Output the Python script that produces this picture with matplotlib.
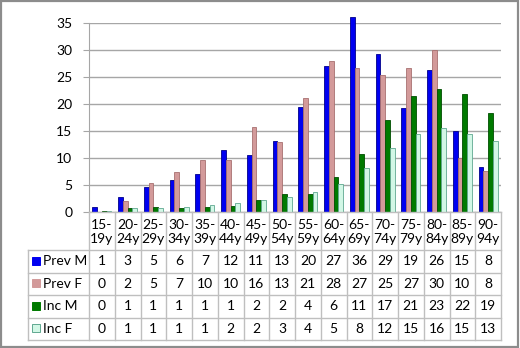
import numpy as np
import matplotlib
matplotlib.use("Agg")
import matplotlib.pyplot as plt
from matplotlib.patches import Rectangle

plt.rcParams['font.family'] = ['Lato', 'DejaVu Sans']

# age groups
categories = ["15-\n19y", "20-\n24y", "25-\n29y", "30-\n34y", "35-\n39y", "40-\n44y",
              "45-\n49y", "50-\n54y", "55-\n59y", "60-\n64y", "65-\n69y", "70-\n74y",
              "75-\n79y", "80-\n84y", "85-\n89y", "90-\n94y"]
series_names = ["Prev M", "Prev F", "Inc M", "Inc F"]

# bar heights
prev_m = [1.0, 2.8, 4.7, 6.0, 7.1, 11.5, 10.5, 13.2, 19.5, 27.0, 36.0, 29.3, 19.2, 26.2, 15.0, 8.4]
prev_f = [0.0, 2.1, 5.3, 7.4, 9.7, 9.6, 15.8, 13.0, 21.1, 27.9, 26.6, 25.3, 26.6, 29.9, 9.9, 7.5]
inc_m = [0.2, 0.7, 0.9, 0.7, 0.9, 1.2, 2.2, 3.4, 3.4, 6.4, 10.8, 17.0, 21.4, 22.8, 21.9, 18.3]
inc_f = [0.2, 0.7, 0.7, 1.0, 1.3, 1.6, 2.2, 2.7, 3.7, 5.1, 8.2, 11.9, 14.5, 15.6, 14.5, 13.1]

# rounded values shown in the data table
table_vals = [
    [1, 3, 5, 6, 7, 12, 11, 13, 20, 27, 36, 29, 19, 26, 15, 8],
    [0, 2, 5, 7, 10, 10, 16, 13, 21, 28, 27, 25, 27, 30, 10, 8],
    [0, 1, 1, 1, 1, 1, 2, 2, 4, 6, 11, 17, 21, 23, 22, 19],
    [0, 1, 1, 1, 1, 2, 2, 3, 4, 5, 8, 12, 15, 16, 15, 13],
]

faces = ["#0000f0", "#d39a9a", "#007a00", "#d2f7e6"]
edges = ["#00008a", "#a87070", "#004d00", "#5fa890"]

W, H = 520, 348
fig = plt.figure(figsize=(W / 100, H / 100), dpi=100)
fig.patch.set_facecolor("white")
fig.add_artist(Rectangle((0.002, 0.003), 0.995, 0.993, transform=fig.transFigure,
                         fill=False, edgecolor="#8c8c8c", linewidth=1.6))

x0, x1 = 89, 501
y0, y1 = 212, 22.7
ax = fig.add_axes([x0 / W, (H - y0) / H, (x1 - x0) / W, (y0 - y1) / H])

n = len(categories)
x = np.arange(n)
bw = 0.185
for i, vals in enumerate([prev_m, prev_f, inc_m, inc_f]):
    ax.bar(x + (i - 1.5) * bw, vals, width=bw, color=faces[i], edgecolor=edges[i],
           linewidth=0.6, zorder=3, clip_on=False)

ax.set_xlim(-0.5, n - 0.5)
ax.set_ylim(0, 35)
ax.set_yticks(range(0, 36, 5))
ax.grid(axis="y", color="#a6a6a6", linewidth=1.0, zorder=0)
for s in ["top", "right", "bottom"]:
    ax.spines[s].set_visible(False)
ax.spines["left"].set_color("#a6a6a6")
ax.tick_params(axis="y", length=4, color="#a6a6a6", labelsize=10, pad=8)
ax.tick_params(axis="x", bottom=False, labelbottom=False)

# data table drawn in pixel space under the axes
tab = fig.add_axes([0, 0, 1, 1], facecolor="none")
tab.set_xlim(0, W)
tab.set_ylim(H, 0)
tab.axis("off")
gc = "#bfbfbf"
cw = (x1 - x0) / n
hdr_bot = 250
row_h = 22.5
lab_left = 28
tab_bot = hdr_bot + 4 * row_h

for j in range(n + 1):
    tab.plot([x0 + j * cw] * 2, [y0, tab_bot], color=gc, lw=1)
tab.plot([lab_left, lab_left], [hdr_bot, tab_bot], color=gc, lw=1)
tab.plot([x0, x1], [y0, y0], color=gc, lw=1)
for r in range(5):
    tab.plot([lab_left, x1], [hdr_bot + r * row_h] * 2, color=gc, lw=1)

for j, c in enumerate(categories):
    tab.text(x0 + (j + 0.5) * cw, (y0 + hdr_bot) / 2 + 1, c, ha="center", va="center",
             fontsize=10, linespacing=1.2)

for r in range(4):
    yc = hdr_bot + (r + 0.5) * row_h
    tab.add_patch(Rectangle((lab_left + 4, yc - 4.5), 8, 8, facecolor=faces[r],
                            edgecolor=edges[r] if r == 3 else faces[r], lw=0.7))
    tab.text(lab_left + 15, yc, series_names[r], ha="left", va="center", fontsize=10)
    for j in range(n):
        tab.text(x0 + (j + 0.5) * cw, yc, str(table_vals[r][j]), ha="center",
                 va="center", fontsize=10)

fig.savefig("out.png", dpi=100)
